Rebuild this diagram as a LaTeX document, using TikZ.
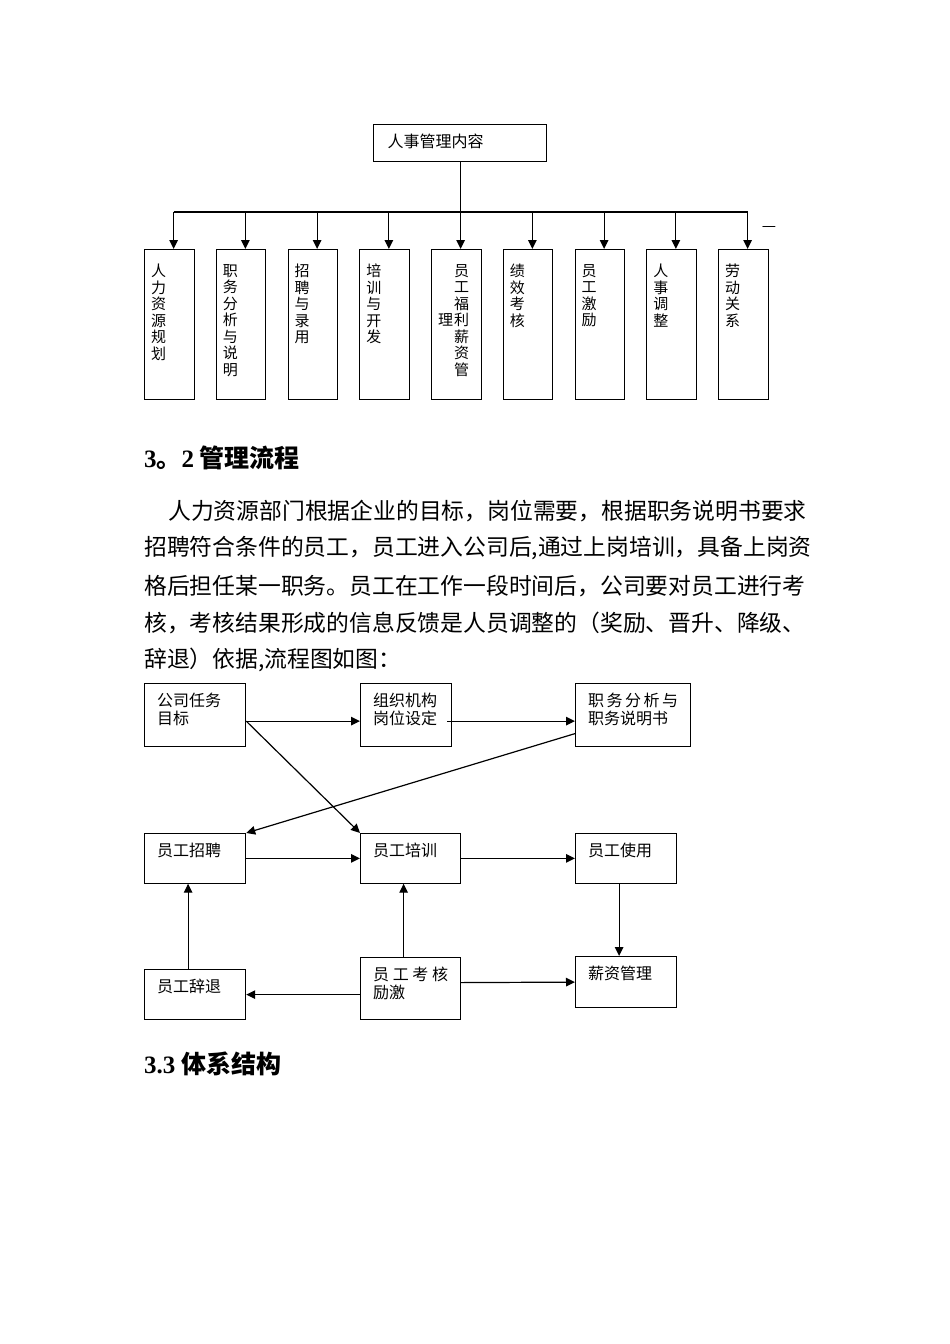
\documentclass[tikz,border=0pt]{standalone}
\usepackage{fontspec}
\setmainfont{Noto Sans CJK SC}
\newfontfamily\timesf{Liberation Serif}
\usetikzlibrary{arrows.meta,positioning}

\tikzset{
  xian/.style={line width=1.2pt},
  jt/.style={line width=1.2pt,-{Triangle[length=9pt,width=8.5pt]}},
  shuk/.style={draw,line width=1.2pt,anchor=north west,inner sep=0pt,
    font=\fontsize{15pt}{16.5pt}\selectfont},
  kuang/.style={draw,line width=1.2pt,anchor=north west,inner xsep=12.5pt,
    inner ysep=9.5pt,font=\fontsize{16pt}{18.3pt}\selectfont},
  hang/.style={anchor=west,inner sep=0pt,font=\fontsize{22.8pt}{26pt}\selectfont},
  biaoti/.style={anchor=west,inner sep=0pt,font=\fontsize{25pt}{29pt}\selectfont\bfseries}
}
\newcommand{\shu}[2]{\parbox[t][150pt][t]{49.5pt}{\vspace*{14.5pt}\hspace*{#1}#2}}
\newcommand{\lie}[1]{\parbox[t]{15pt}{#1}}
\newcommand{\kk}[3]{\parbox[t][#2][t]{#1}{#3}}

\begin{document}
\begin{tikzpicture}[x=1pt,y=-1pt]
\fill[white] (0,0) rectangle (950,1344);
\useasboundingbox (0,0) rectangle (950,1344);

% 人事管理内容
\node(rs) at (373,124)[kuang,inner xsep=14pt] {\kk{145pt}{18pt}{人事管理内容}};
\node(c1) at (144,249)[shuk] {\shu{6.5pt}{\lie{人\\力\\资\\源\\规\\划}}};
\node(c2) at (215.75,249)[shuk] {\shu{6.5pt}{\lie{职\\务\\分\\析\\与\\说\\明}}};
\node(c3) at (287.5,249)[shuk] {\shu{6.5pt}{\lie{招\\聘\\与\\录\\用}}};
\node(c4) at (359.25,249)[shuk] {\shu{6.5pt}{\lie{培\\训\\与\\开\\发}}};
\node(c5) at (431,249)[shuk] {\shu{6.5pt}{\lie{\mbox{}\\\mbox{}\\\mbox{}\\理}\hspace*{1pt}\lie{员\\工\\福\\利\\薪\\资\\管}}};
\node(c6) at (502.75,249)[shuk] {\shu{6.5pt}{\lie{绩\\效\\考\\核}}};
\node(c7) at (574.5,249)[shuk] {\shu{6.5pt}{\lie{员\\工\\激\\励}}};
\node(c8) at (646.25,249)[shuk] {\shu{6.5pt}{\lie{人\\事\\调\\整}}};
\node(c9) at (718,249)[shuk] {\shu{6.5pt}{\lie{劳\\动\\关\\系}}};
\node(dash) at (769,229)[inner sep=0pt,font=\fontsize{16pt}{18pt}\selectfont] {—};

\coordinate (bar) at (460,212);
\foreach \i in {1,...,9}
  \coordinate (t\i) at ([xshift=4.25pt]c\i.north);
\draw[xian] (t1 |- bar) -- (t9 |- bar);
\draw[xian] (rs.south) -- (rs.south |- bar);
\foreach \i in {1,...,9}
  \draw[jt] (t\i |- bar) -- (t\i);

% 3.2
\node(h32) at (144,458)[biaoti] {{\timesf 3}。{\timesf 2} 管理流程};
\node(p1) at (168,511)[hang] {人力资源部门根据企业的目标，岗位需要，根据职务说明书要求};
\node(p2) at (144,548)[hang] {招聘符合条件的员工，员工进入公司后,通过上岗培训，具备上岗资};
\node(p3) at (144,586)[hang] {格后担任某一职务。员工在工作一段时间后，公司要对员工进行考};
\node(p4) at (144,623)[hang] {核，考核结果形成的信息反馈是人员调整的（奖励、晋升、降级、};
\node(p5) at (144,660)[hang] {辞退）依据,流程图如图：};

% 流程图
\node(A) at (144,683)[kuang] {\kk{76pt}{44pt}{公司任务\\目标}};
\node(B) at (360,683)[kuang] {\kk{66pt}{44pt}{组织机构\\岗位设定}};
\node(C) at (575,683)[kuang] {\kk{90pt}{44pt}{\leavevmode\hbox to 90pt{职\hfil 务\hfil 分\hfil 析\hfil 与}\\职务说明书}};
\node(D) at (144,833)[kuang] {\kk{76pt}{30.5pt}{员工招聘}};
\node(E) at (360,833)[kuang] {\kk{75pt}{30.5pt}{员工培训}};
\node(F) at (575,833)[kuang] {\kk{76pt}{30.5pt}{员工使用}};
\node(G) at (144,969)[kuang] {\kk{76pt}{31pt}{员工辞退}};
\node(H) at (360,957)[kuang] {\kk{75pt}{43pt}{\leavevmode\hbox to 75pt{员\hfil 工\hfil 考\hfil 核}\\励激}};
\node(I) at (575,956)[kuang] {\kk{76pt}{32pt}{薪资管理}};

\coordinate (fi) at ([xshift=-7pt]F.south);
\coordinate (he) at ([xshift=-7pt]H.north);
\coordinate (gd) at ([xshift=-7pt]G.north);

\path [jt]
  ([yshift=-6pt]A.east)          edge   ([yshift=-6pt]B.west)
  ([xshift=-5pt,yshift=-6pt]B.east) edge ([yshift=-6pt]C.west)
  ([yshift=-6pt]A.east)          edge   (E.north west)
  ([yshift=-18.5pt]C.west)       edge   (D.north east)
  (D)                            edge   (E)
  (E)                            edge   (F)
  (fi)                           edge   (fi |- I.north)
  (he)                           edge   (he |- E.south)
  (gd)                           edge   (gd |- D.south)
  ([yshift=-6pt]H.west)          edge   (G.east)
  ([yshift=6pt]H.east)           edge   (I.west);

% 3.3
\node(h33) at (144,1064)[biaoti] {{\timesf 3.3} 体系结构};
\end{tikzpicture}
\end{document}
